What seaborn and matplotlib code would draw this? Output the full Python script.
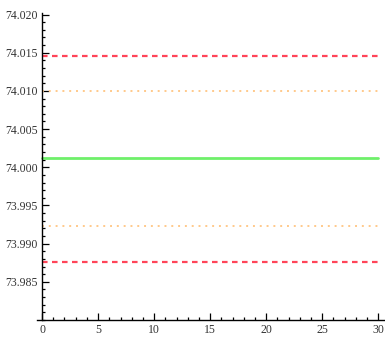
import numpy as np
import pandas as pd
import matplotlib
matplotlib.use("Agg")
import matplotlib.pyplot as plt
from matplotlib.ticker import MultipleLocator, FormatStrFormatter
import seaborn as sns

# Control limits of the chart
limit_names = ["UCL", "UWL", "CL", "LWL", "LCL"]
limit_values = [74.0146, 74.0100, 74.0012, 73.9923, 73.9876]
sample_range = [0, 30]
x_ticks = [0, 5, 10, 15, 20, 25, 30]
y_ticks = [74.020, 74.015, 74.010, 74.005, 74.000, 73.995, 73.990, 73.985]

colors = {"UCL": "#ff4458", "LCL": "#ff4458",
          "UWL": "#ffc98a", "LWL": "#ffc98a",
          "CL": "#6ff06a"}
styles = {"UCL": (0, (2.5, 2)), "LCL": (0, (2.5, 2)),
          "UWL": (0, (1, 2.5)), "LWL": (0, (1, 2.5)),
          "CL": "-"}
widths = {"UCL": 1.6, "LCL": 1.6, "UWL": 1.4, "LWL": 1.4, "CL": 2.0}

rows = []
for name, val in zip(limit_names, limit_values):
    for x in sample_range:
        rows.append({"sample": x, "value": val, "limit": name})
df = pd.DataFrame(rows)

sns.set_style("white")
plt.rcParams["font.family"] = ["Liberation Serif", "DejaVu Serif"]

fig = plt.figure(figsize=(3.85, 3.4), dpi=100)
ax = fig.add_axes([0.0961, 0.0588, 0.904, 0.903])

for name in limit_names:
    sub = df[df["limit"] == name]
    sns.lineplot(data=sub, x="sample", y="value", ax=ax, color=colors[name],
                 linewidth=widths[name], linestyle=styles[name], legend=False)

# axes cross at the origin, with a little overhang beyond the data range
ax.set_xlim(-0.45, 30.6)
ax.set_ylim(73.980, 74.0202)
ax.spines["left"].set_position(("data", 0))
ax.set_xticks(x_ticks)
ax.xaxis.set_minor_locator(MultipleLocator(1))
ax.set_yticks(y_ticks)
ax.yaxis.set_minor_locator(MultipleLocator(0.001))
ax.yaxis.set_major_formatter(FormatStrFormatter("%.3f"))

ax.tick_params(which="both", direction="in", color="black", width=0.9,
               labelsize=8.5, labelcolor="#333333", pad=3,
               left=True, bottom=True)
ax.tick_params(which="major", length=5)
ax.tick_params(which="minor", length=2.5)

for side in ["top", "right"]:
    ax.spines[side].set_visible(False)
for side in ["left", "bottom"]:
    ax.spines[side].set_color("black")
    ax.spines[side].set_linewidth(1.0)

ax.set_xlabel("")
ax.set_ylabel("")
fig.savefig("out.png", dpi=100)
